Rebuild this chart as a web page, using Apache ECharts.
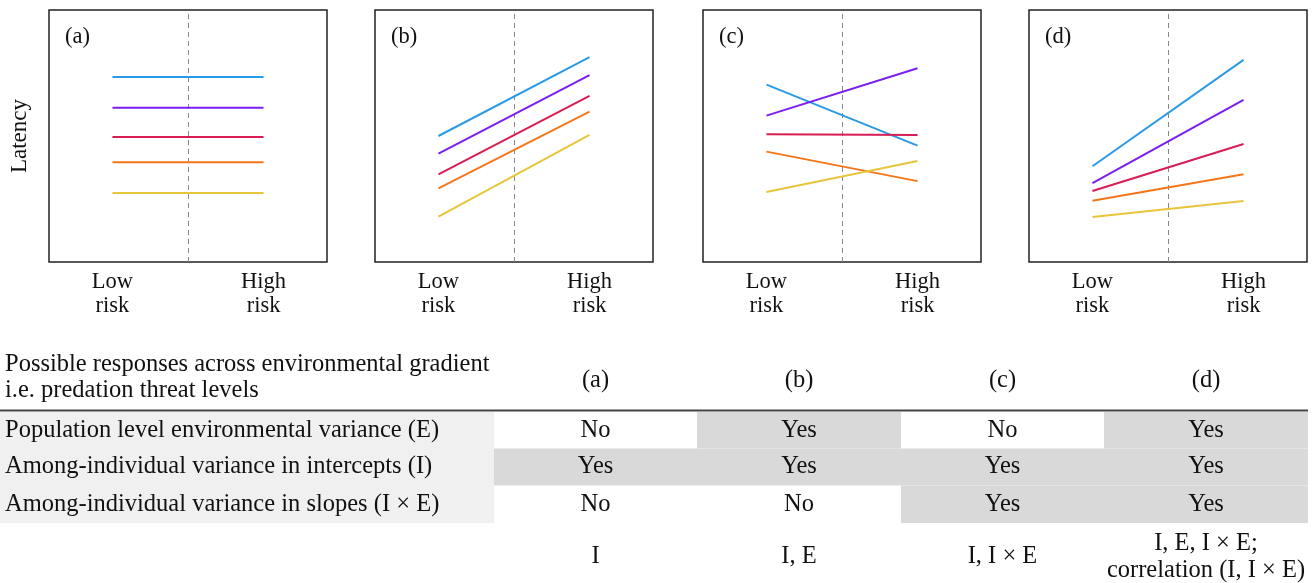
<!DOCTYPE html>
<html><head><meta charset="utf-8">
<script src="https://cdn.jsdelivr.net/npm/echarts@6/dist/echarts.min.js"></script>
<style>html,body{margin:0;padding:0;background:#fff}#c{width:1312px;height:583px}</style>
</head><body><div id="c"></div>
<script>
// ---- data ----
const xLabels = ['Low\nrisk', 'High\nrisk'];
const panelNames = ['(a)', '(b)', '(c)', '(d)'];
const individualColors = ['#2a9ae6', '#7a1fef', '#d81d55', '#f5761a', '#e8c53a'];
// latency at [low risk, high risk] for each of five individuals (blue, purple, red, orange, yellow)
const panelA = [[73.4, 73.4], [61.2, 61.2], [49.6, 49.6], [39.6, 39.6], [27.4, 27.4]];
const panelB = [[50.0, 81.3], [43.0, 74.2], [34.8, 65.9], [29.2, 59.7], [18.0, 50.4]];
const panelC = [[70.4, 46.2], [58.1, 76.9], [50.7, 50.4], [43.8, 32.1], [27.8, 40.1]];
const panelD = [[38.0, 80.2], [31.3, 64.3], [28.2, 46.8], [24.3, 34.8], [17.9, 24.2]];
const panels = [panelA, panelB, panelC, panelD];

const tableHeader = 'Possible responses across environmental gradient\ni.e. predation threat levels';
const rowLabels = [
  'Population level environmental variance (E)',
  'Among-individual variance in intercepts (I)',
  'Among-individual variance in slopes (I × E)'
];
const envVariance = ['No', 'Yes', 'No', 'Yes'];
const interceptVariance = ['Yes', 'Yes', 'Yes', 'Yes'];
const slopeVariance = ['No', 'No', 'Yes', 'Yes'];
const components = ['I', 'I, E', 'I, I × E', 'I, E, I × E;\ncorrelation (I, I × E)'];

// ---- layout ----
const FONT = "'Liberation Serif', 'DejaVu Serif', serif";
const INK = '#111';
const gridLefts = [49, 375, 703, 1029];
const gridW = 278, gridTop = 10, gridH = 252;

const grids = [], xAxes = [], yAxes = [], series = [], titles = [];
panels.forEach((pd, p) => {
  grids.push({left: gridLefts[p], top: gridTop, width: gridW, height: gridH, show: true,
    borderColor: '#222', borderWidth: 1.5, backgroundColor: 'transparent'});
  xAxes.push({type: 'value', gridIndex: p, min: -0.42, max: 1.42,
    axisLine: {show: false}, axisTick: {show: false}, splitLine: {show: false},
    axisLabel: {customValues: [0, 1], formatter: v => xLabels[Math.round(v)],
      fontFamily: FONT, fontSize: 22.5, lineHeight: 24, margin: 8, color: INK}});
  yAxes.push({type: 'value', gridIndex: p, min: 0, max: 100,
    axisLine: {show: false}, axisTick: {show: false}, splitLine: {show: false}, axisLabel: {show: false},
    name: p === 0 ? 'Latency' : '', nameLocation: 'middle', nameGap: 18,
    nameTextStyle: {fontFamily: FONT, fontSize: 23, color: INK}});
  titles.push({text: panelNames[p], left: gridLefts[p] + 11, top: 21,
    textStyle: {fontFamily: FONT, fontSize: 22.5, fontWeight: 'normal', color: INK}});
  pd.forEach((vals, i) => {
    const s = {type: 'line', xAxisIndex: p, yAxisIndex: p, silent: true, animation: false,
      symbol: 'none', data: [[0, vals[0]], [1, vals[1]]],
      lineStyle: {color: individualColors[i], width: 2}, z: 3};
    if (i === 0) {
      s.markLine = {silent: true, symbol: 'none', label: {show: false}, animation: false,
        lineStyle: {type: [5, 4], color: '#888', width: 1}, data: [{xAxis: 0.5}], z: 1};
    }
    series.push(s);
  });
});

// ---- table ----
const colX = [0, 494, 697, 901, 1104, 1308];
const rowY = [412, 448.5, 485.5, 523];
const graphic = [];
const TS = {fontFamily: FONT, fontSize: 24.5, fill: INK};
graphic.push({type: 'rect', shape: {x: 0, y: rowY[0], width: colX[1], height: rowY[3] - rowY[0]},
  style: {fill: '#f0f0f0'}, silent: true});
const rows = [envVariance, interceptVariance, slopeVariance];
rows.forEach((row, r) => {
  row.forEach((v, c) => {
    if (v === 'Yes') {
      graphic.push({type: 'rect', shape: {x: colX[c + 1], y: rowY[r], width: colX[c + 2] - colX[c + 1], height: rowY[r + 1] - rowY[r]},
        style: {fill: '#d9d9d9'}, silent: true});
    }
    graphic.push({type: 'text', x: (colX[c + 1] + colX[c + 2]) / 2, y: (rowY[r] + rowY[r + 1]) / 2,
      style: Object.assign({text: v, align: 'center', verticalAlign: 'middle'}, TS), silent: true});
  });
  graphic.push({type: 'text', x: 5, y: (rowY[r] + rowY[r + 1]) / 2,
    style: Object.assign({text: rowLabels[r], align: 'left', verticalAlign: 'middle'}, TS), silent: true});
});
graphic.push({type: 'rect', shape: {x: 0, y: 409.5, width: 1308, height: 2}, style: {fill: '#444'}, silent: true});
graphic.push({type: 'text', x: 5, y: 378,
  style: Object.assign({text: tableHeader, align: 'left', verticalAlign: 'middle', lineHeight: 26}, TS), silent: true});
panelNames.forEach((n, c) => {
  graphic.push({type: 'text', x: (colX[c + 1] + colX[c + 2]) / 2, y: 381,
    style: Object.assign({text: n, align: 'center', verticalAlign: 'middle'}, TS), silent: true});
});
components.forEach((t, c) => {
  graphic.push({type: 'text', x: (colX[c + 1] + colX[c + 2]) / 2, y: 557,
    style: Object.assign({text: t, align: 'center', verticalAlign: 'middle', lineHeight: 26.5}, TS), silent: true});
});

const chart = echarts.init(document.getElementById('c'), null, {renderer: 'canvas'});
chart.setOption({
  animation: false,
  backgroundColor: '#fff',
  title: titles,
  grid: grids, xAxis: xAxes, yAxis: yAxes, series: series,
  graphic: graphic
});
</script></body></html>
